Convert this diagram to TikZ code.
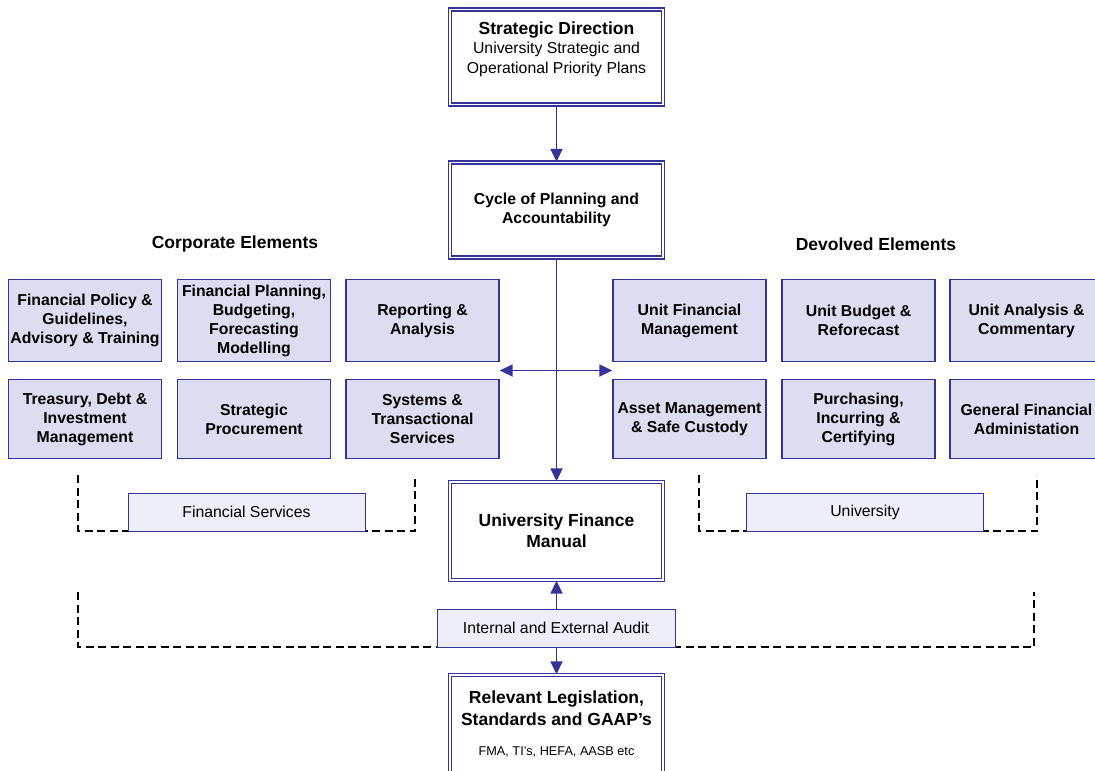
\documentclass[tikz,border=0pt]{standalone}
\usepackage{fontspec}
\setmainfont{Liberation Sans}
\usetikzlibrary{arrows.meta,calc}
\definecolor{edge}{RGB}{51,51,153}
\definecolor{boxfill}{RGB}{221,221,242}
\definecolor{tagfill}{RGB}{238,238,250}
\begin{document}
\begin{tikzpicture}[x=1pt,y=-1pt,
  dbox/.style={draw=edge, line width=1.4pt, double=white, double distance=1.8pt,
    fill=white, inner sep=0pt, align=center, minimum width=213, minimum height=95},
  element/.style={draw=edge, line width=1.4pt, fill=boxfill, minimum width=153,
    inner sep=0pt, align=center, font=\fontsize{15.8}{19}\selectfont\bfseries},
  tag/.style={draw=edge, line width=1pt, fill=tagfill, minimum width=237,
    minimum height=38, inner sep=0pt, font=\fontsize{15.8}{19}\selectfont},
  heading/.style={font=\fontsize{17.5}{21.5}\selectfont\bfseries, align=center},
  conn/.style={draw=edge, line width=1.8pt},
  tip/.style={-{Triangle[length=13pt,width=12pt]}},
  group/.style={draw=black, line width=2pt, dash pattern=on 8pt off 4.5pt}]
\clip (0,0) rectangle (1095,771);
\fill[white] (0,0) rectangle (1095,771);

% main column of double-framed boxes
\node[dbox] (sd) at (556.5,57) {};
\node[align=center, font=\fontsize{15.8}{19.5}\selectfont] (sdtext) at (556.5,49)
  {{\fontsize{17.5}{19.5}\selectfont\bfseries Strategic Direction}\\
   University Strategic and\\
   Operational Priority Plans};
\node[dbox, font=\fontsize{15.8}{19.5}\selectfont\bfseries] (cycle) at (556.5,210)
  {Cycle of Planning and\\Accountability};
\node[dbox, minimum height=98, font=\fontsize{17.5}{21}\selectfont\bfseries] (manual) at (556.5,531)
  {University Finance\\Manual};
\node[dbox, minimum height=130] (rel) at (556.5,740) {};
\node[heading] (reltext) at (556.5,708) {Relevant Legislation,\\Standards and GAAP’s};
\node[font=\fontsize{12.7}{15}\selectfont] (reffoot) at (556.5,752) {FMA, TI’s, HEFA, AASB etc};

% group headings
\node[heading] (corp) at (235,244) {Corporate Elements};
\node[heading] (devo) at (876,244) {Devolved Elements};

% corporate elements
\node[element, minimum height=82] (policy) at (85,320.5) {Financial Policy \&\\Guidelines,\\Advisory \& Training};
\node[element, minimum height=82] (plan) at (254,320.5) {Financial Planning,\\Budgeting,\\Forecasting\\Modelling};
\node[element, minimum height=82] (rep) at (422.5,320.5) {Reporting \&\\Analysis};
\node[element, minimum height=79] (treas) at (85,419) {Treasury, Debt \&\\Investment\\Management};
\node[element, minimum height=79] (proc) at (254,419) {Strategic\\Procurement};
\node[element, minimum height=79] (sys) at (422.5,419) {Systems \&\\Transactional\\Services};

% devolved elements
\node[element, minimum height=82] (unitfm) at (689.5,320.5) {Unit Financial\\Management};
\node[element, minimum height=82] (budget) at (858.5,320.5) {Unit Budget \&\\Reforecast};
\node[element, minimum height=82] (unitan) at (1026.5,320.5) {Unit Analysis \&\\Commentary};
\node[element, minimum height=79] (asset) at (689.5,419) {Asset Management\\\& Safe Custody};
\node[element, minimum height=79] (purch) at (858.5,419) {Purchasing,\\Incurring \&\\Certifying};
\node[element, minimum height=79] (genfa) at (1026.5,419) {General Financial\\Administation};

% dashed group brackets
\coordinate (fsA) at (78,475);  \coordinate (fsB) at (78,531);
\coordinate (fsC) at (415,531); \coordinate (fsD) at (415,475);
\draw[group] (fsA) -- (fsB) -- (fsC) -- (fsD);
\coordinate (unA) at (699,475);  \coordinate (unB) at (699,531);
\coordinate (unC) at (1037,531); \coordinate (unD) at (1037,475);
\draw[group] (unA) -- (unB) -- (unC) -- (unD);
\coordinate (auA) at (78,592);   \coordinate (auB) at (78,647);
\coordinate (auC) at (1034,647); \coordinate (auD) at (1034,592);
\draw[group] (auA) -- (auB) -- (auC) -- (auD);

% tags sitting on the brackets
\node[tag] (fs) at (246.5,512) {Financial Services};
\node[tag] (uni) at (865,512) {University};
\node[tag, minimum width=238] (audit) at (556,628) {Internal and External Audit};

% connectors
\draw[conn, tip] (sd.south) -- (cycle.north);
\draw[conn, tip] (cycle.south) -- (manual.north);
\coordinate (wl) at ($(rep.south east)!0.5!(sys.north east)$);
\coordinate (wr) at ($(unitfm.south west)!0.5!(asset.north west)$);
\draw[conn, {Triangle[length=13pt,width=12pt]}-{Triangle[length=13pt,width=12pt]}] (wl) -- (wr);
\draw[conn, tip] (audit.north -| manual.south) -- (manual.south);
\draw[conn, tip] (audit.south -| rel.north) -- (rel.north);
\end{tikzpicture}
\end{document}
